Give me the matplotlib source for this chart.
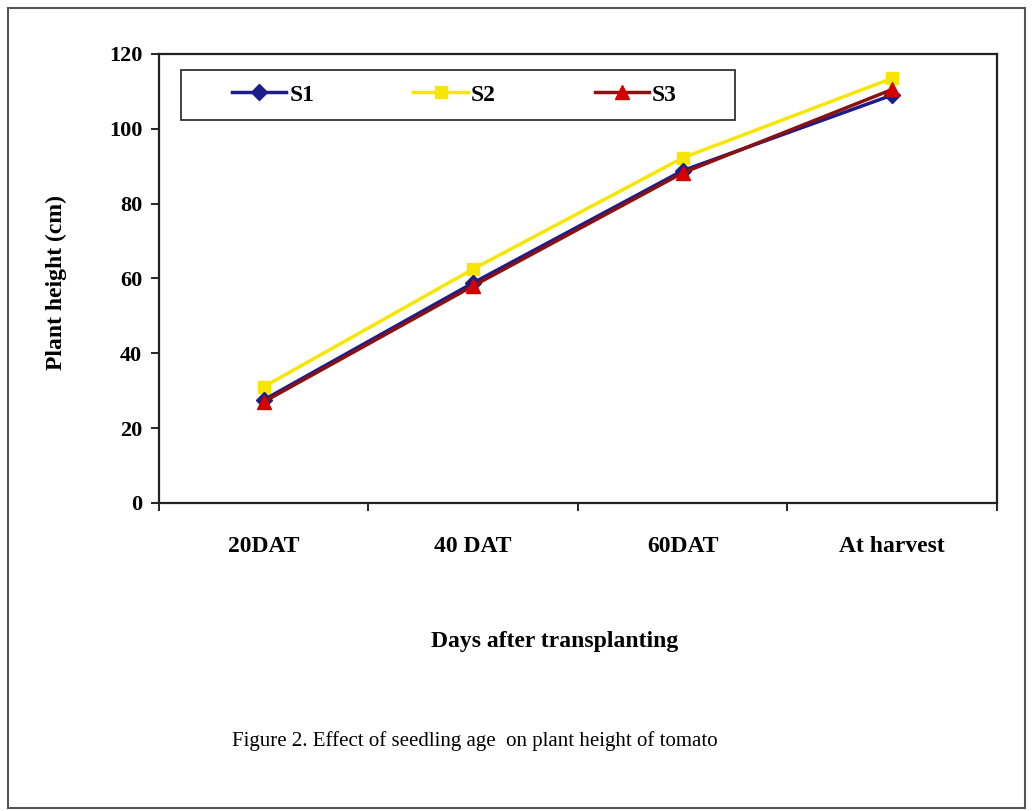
import matplotlib
matplotlib.use("Agg")
import matplotlib.pyplot as plt
from matplotlib.patches import Rectangle
from matplotlib.ticker import FixedLocator

categories = ["20DAT", "40 DAT", "60DAT", "At harvest"]
s1 = [27.5, 58.8, 88.8, 109.0]
s2 = [31.0, 62.5, 92.2, 113.5]
s3 = [27.0, 58.0, 88.2, 110.5]
series_names = ["S1", "S2", "S3"]
yticks = [0, 20, 40, 60, 80, 100, 120]

plt.rcParams['font.family'] = ['Liberation Serif', 'DejaVu Serif']

fig = plt.figure(figsize=(10.32, 8.11), dpi=100)
ax = fig.add_axes([0.154, 0.380, 0.812, 0.5535])

x = list(range(len(categories)))
ax.plot(x, s1, color='#1c1c8a', lw=2.5, marker='D', ms=8, mfc='#1c1c8a', mec='#1c1c8a', label=series_names[0], zorder=3)
ax.plot(x, s2, color='#f7e600', lw=2.5, marker='s', ms=9, mfc='#f7e600', mec='#f7e600', label=series_names[1], zorder=2)
ax.plot(x, s3, color='#8b1010', lw=2.5, marker='^', ms=10, mfc='#d40000', mec='#d40000', label=series_names[2], zorder=4)

ax.set_xlim(-0.5, len(categories) - 0.5)
ax.set_ylim(0, 120)
ax.set_yticks(yticks)
ax.set_yticklabels([str(v) for v in yticks], fontsize=16, fontweight='bold')
ax.set_xticks(x)
ax.set_xticklabels(categories, fontsize=17, fontweight='bold')
ax.tick_params(axis='x', which='major', length=0, pad=24)
ax.xaxis.set_minor_locator(FixedLocator([i - 0.5 for i in range(len(categories) + 1)]))
ax.tick_params(axis='x', which='minor', length=6, direction='out', width=1.2)
ax.tick_params(axis='y', length=6, direction='out', width=1.2, pad=6)

for sp in ax.spines.values():
    sp.set_linewidth(1.6)
    sp.set_color('#222222')

ax.set_xlabel("Days after transplanting", fontsize=17, fontweight='bold')
ax.xaxis.set_label_coords(0.4726, -0.285)
ax.xaxis.label.set_va('top')
ax.set_ylabel("Plant height (cm)", fontsize=17, fontweight='bold')
ax.yaxis.set_label_coords(-0.122, 0.49)
ax.yaxis.label.set_va('center')

leg = ax.legend(loc='center left', bbox_to_anchor=(0.087, 0.909), ncol=3, frameon=False,
                fontsize=17, handlelength=2.3, handletextpad=0.13, columnspacing=4.2,
                borderaxespad=0, borderpad=0)
for t in leg.get_texts():
    t.set_fontweight('bold')
ax.add_patch(Rectangle((0.026, 0.853), 0.662, 0.111, transform=ax.transAxes, fill=False,
                       edgecolor='#333333', lw=1.3, zorder=5))

fig.text(0.460, 1 - 741 / 811, "Figure 2. Effect of seedling age  on plant height of tomato",
         ha='center', va='center', fontsize=15)

fig.patches.append(Rectangle((8 / 1032, 3 / 811), 1017 / 1032, 800 / 811, transform=fig.transFigure,
                             fill=False, edgecolor='#555555', lw=1.5))

fig.savefig("out.png", dpi=100)
